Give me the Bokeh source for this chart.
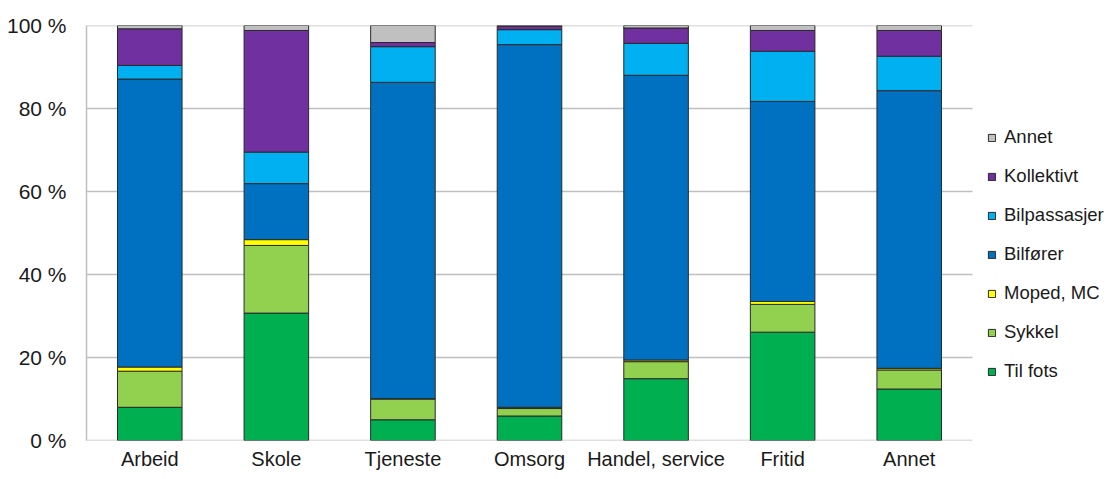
from bokeh.plotting import figure
from bokeh.models import (ColumnDataSource, Legend, LegendItem, FixedTicker,
                          CustomJSTickFormatter, Range1d)
from bokeh.embed import file_html
from bokeh.resources import INLINE

categories = ["Arbeid", "Skole", "Tjeneste", "Omsorg", "Handel, service", "Fritid", "Annet"]
series = ["Til fots", "Sykkel", "Moped, MC", "Bilfører", "Bilpassasjer", "Kollektivt", "Annet"]
til_fots     = [8.0, 30.7, 5.0, 5.9, 14.9, 26.1, 12.4]
sykkel       = [8.7, 16.3, 5.0, 1.8, 4.1, 6.7, 4.6]
moped        = [1.0, 1.4, 0.1, 0.3, 0.4, 0.7, 0.4]
bilforer     = [69.4, 13.5, 76.2, 87.4, 68.6, 48.2, 66.9]
bilpassasjer = [3.3, 7.6, 8.6, 3.6, 7.7, 12.1, 8.3]
kollektivt   = [8.8, 29.3, 1.0, 0.8, 3.7, 5.0, 6.2]
annet        = [0.8, 1.2, 4.2, 0.2, 0.6, 1.2, 1.2]
colors = ["#00B050", "#92D050", "#FFFF00", "#0070C0", "#00B0F0", "#7030A0", "#C0C0C0"]
yticks = [0, 20, 40, 60, 80, 100]

n = len(categories)
xpos = list(range(n))
keys = ["s0", "s1", "s2", "s3", "s4", "s5", "s6"]
data = {"x": xpos}
for k, v in zip(keys, [til_fots, sykkel, moped, bilforer, bilpassasjer, kollektivt, annet]):
    data[k] = v
source = ColumnDataSource(data)

OUTLINE = "#2a2a2a"
GRID = "#BFBFBF"
PLOT_W = 886          # width of the bar area in px
FRAME_W = 1019        # frame incl. legend area
x_end = -0.5 + n * FRAME_W / PLOT_W

p = figure(x_range=Range1d(-0.5, x_end), y_range=Range1d(0, 100),
           frame_width=FRAME_W, frame_height=415,
           output_backend="svg", toolbar_location=None,
           min_border_left=86, min_border_right=0, min_border_top=25, min_border_bottom=28)

# gridlines only across the bar area (they stop before the legend)
p.segment(x0=-0.5, x1=n - 0.5, y0=yticks, y1=yticks, line_color=GRID, line_width=1.5)

renderers = p.vbar_stack(keys, x="x", width=0.51, source=source, color=colors,
                         line_color=OUTLINE, line_width=1)

p.outline_line_color = None
p.grid.grid_line_color = None
p.xaxis.ticker = FixedTicker(ticks=xpos)
p.xaxis.major_label_overrides = {i: c for i, c in zip(xpos, categories)}
p.yaxis.ticker = FixedTicker(ticks=yticks)
p.yaxis.formatter = CustomJSTickFormatter(code="return tick + ' %';")
for ax in (p.xaxis[0], p.yaxis[0]):
    ax.major_tick_line_color = None
    ax.minor_tick_line_color = None
    ax.major_tick_out = 0
    ax.major_tick_in = 0
    ax.minor_tick_out = 0
    ax.minor_tick_in = 0
    ax.major_label_text_font = "Liberation Sans"
    ax.major_label_text_color = "#1a1a1a"
p.xaxis.axis_line_color = None
p.yaxis.axis_line_color = GRID
p.yaxis.axis_line_width = 1.5
p.yaxis.major_label_text_font_size = "21px"
p.xaxis.major_label_text_font_size = "20px"
p.yaxis.major_label_standoff = 20
p.xaxis.major_label_standoff = 7

items = [LegendItem(label=s, renderers=[r]) for s, r in zip(series, renderers)][::-1]
legend = Legend(items=items, location=(PLOT_W + 15, 58), orientation="vertical",
                glyph_width=9, glyph_height=9, label_height=22, spacing=17,
                padding=0, margin=0, border_line_color=None, background_fill_alpha=0,
                label_text_font="Liberation Sans", label_text_font_size="18.5px",
                label_text_color="#1a1a1a", label_standoff=8)
p.add_layout(legend)

open("out.html", "w").write(file_html(p, INLINE))
